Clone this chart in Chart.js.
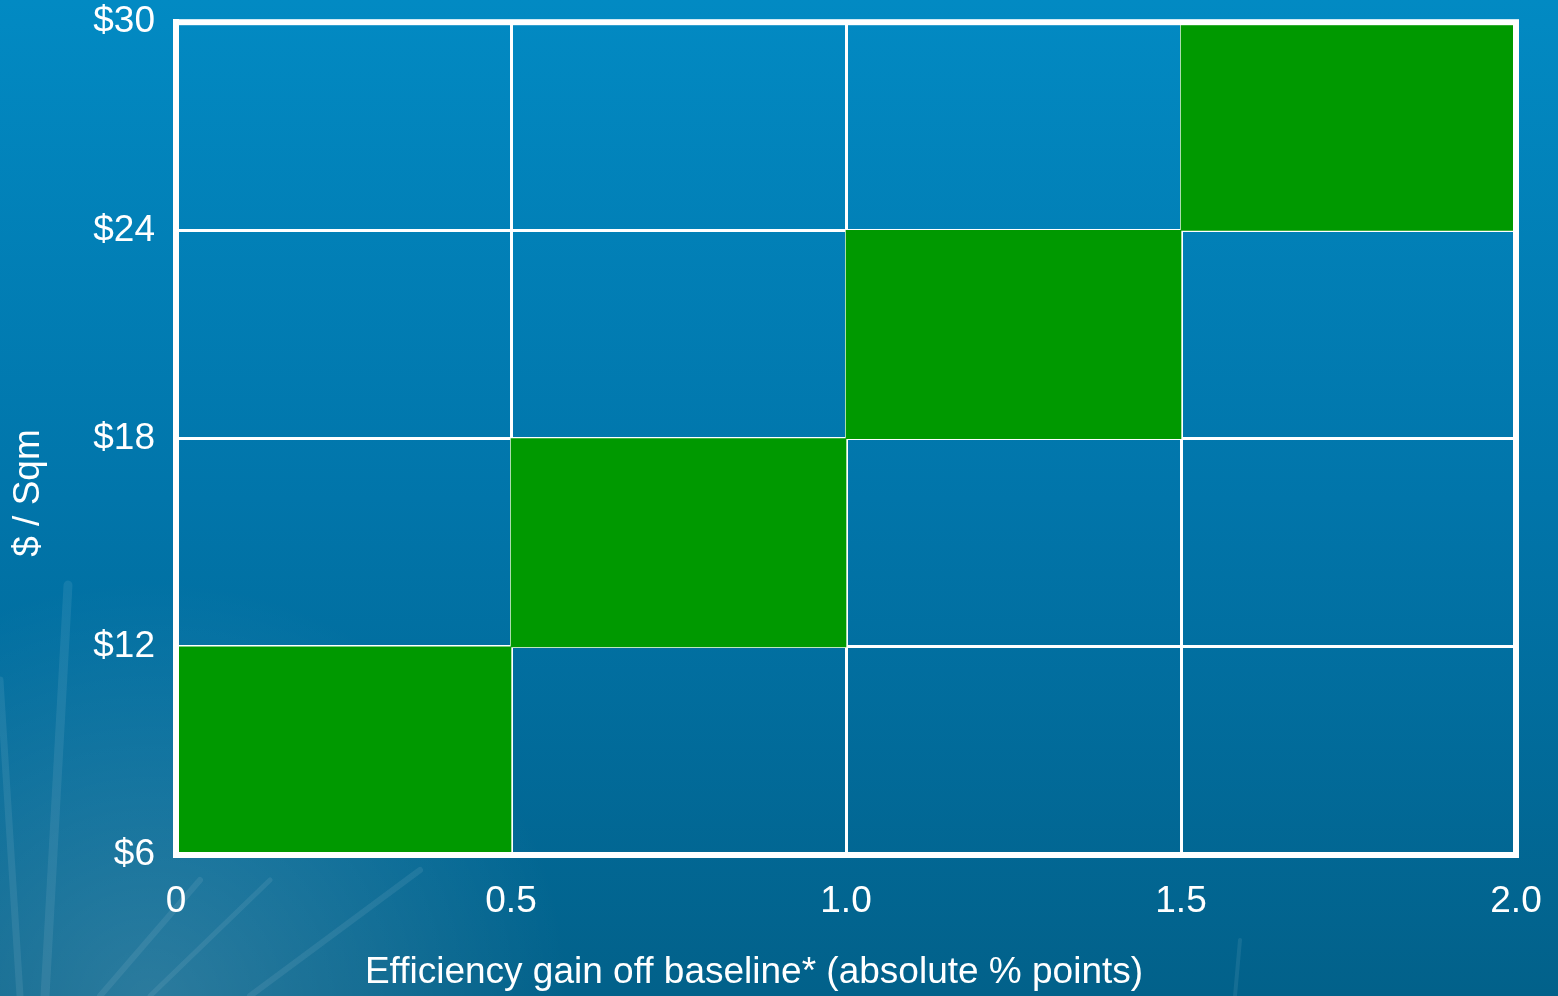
<!DOCTYPE html>
<html lang="en">
<head>
    <meta charset="UTF-8">
    <title>Cost per sqm vs efficiency gain</title>
    <script src="https://cdn.jsdelivr.net/npm/chart.js@4.4.1/dist/chart.umd.min.js"></script>
    <style>
        body {
            margin: 0;
            overflow: hidden;
            background-color: #0277a9;
        }
        .chart-container {
            width: 1558px;
            height: 996px;
        }
    </style>
</head>
<body>
    <div class="chart-container">
        <canvas id="gainChart"></canvas>
    </div>

    <script>
        // Efficiency bands (x) and the $/sqm range covered by each band
        const bands = ['0–0.5', '0.5–1.0', '1.0–1.5', '1.5–2.0'];
        const costLow = [6, 12, 18, 24];
        const costHigh = [12, 18, 24, 30];

        // Tick labels
        const xTicks = [0, 0.5, 1.0, 1.5, 2.0];
        const yTicks = [6, 12, 18, 24, 30];

        const xTitle = 'Efficiency gain off baseline* (absolute % points)';
        const yTitle = '$ / Sqm';

        const white = '#ffffff';
        const fontFamily = '"Liberation Sans", Arial, sans-serif';
        const fontSize = 37;

        // slide-like background: blue gradient with a few faint streaks bottom-left
        const backgroundPlugin = {
            id: 'slideBackground',
            beforeDraw(chart) {
                const { ctx, width, height } = chart;
                ctx.save();
                const g = ctx.createLinearGradient(0, 0, 0, height);
                g.addColorStop(0, '#028ac3');
                g.addColorStop(0.5, '#0175aa');
                g.addColorStop(1, '#02618a');
                ctx.fillStyle = g;
                ctx.fillRect(0, 0, width, height);

                const r = ctx.createRadialGradient(150, 1000, 10, 150, 1000, 420);
                r.addColorStop(0, 'rgba(255,255,255,0.16)');
                r.addColorStop(1, 'rgba(255,255,255,0)');
                ctx.fillStyle = r;
                ctx.fillRect(0, 500, 700, 496);

                ctx.strokeStyle = 'rgba(255,255,255,0.08)';
                ctx.lineCap = 'round';
                const streaks = [
                    [68, 585, 45, 996, 9], [0, 680, 20, 996, 7], [200, 880, 100, 996, 6],
                    [270, 880, 150, 996, 5], [420, 870, 250, 996, 6], [1240, 940, 1235, 996, 4]
                ];
                streaks.forEach(([x1, y1, x2, y2, w]) => {
                    ctx.lineWidth = w;
                    ctx.beginPath();
                    ctx.moveTo(x1, y1);
                    ctx.lineTo(x2, y2);
                    ctx.stroke();
                });
                ctx.restore();
            }
        };

        // thick white frame round the plot area, plus the two axis titles
        // (the slide places them off-centre, so they are set by hand here)
        const framePlugin = {
            id: 'plotFrame',
            afterDraw(chart) {
                const { ctx, chartArea: a } = chart;
                ctx.save();
                ctx.strokeStyle = white;
                ctx.lineWidth = 6;
                ctx.strokeRect(a.left, a.top, a.right - a.left, a.bottom - a.top);

                ctx.fillStyle = white;
                ctx.font = fontSize + 'px ' + fontFamily;
                ctx.textAlign = 'center';
                ctx.textBaseline = 'middle';
                ctx.fillText(xTitle, 754, 973);

                ctx.translate(29, 493);
                ctx.rotate(-Math.PI / 2);
                ctx.fillText(yTitle, 0, 0);
                ctx.restore();
            }
        };

        const ctx = document.getElementById('gainChart').getContext('2d');
        new Chart(ctx, {
            type: 'bar',
            data: {
                labels: bands,
                datasets: [{
                    label: yTitle,
                    data: costLow.map((lo, i) => [lo, costHigh[i]]),
                    backgroundColor: '#009900',
                    borderWidth: 0,
                    barPercentage: 1,
                    categoryPercentage: 1
                }]
            },
            options: {
                responsive: true,
                maintainAspectRatio: false,
                animation: false,
                layout: {
                    padding: { top: 0, right: 42, left: 0, bottom: 0 }
                },
                plugins: {
                    legend: { display: false },
                    tooltip: { enabled: false }
                },
                scales: {
                    x: {
                        type: 'category',
                        display: false
                    },
                    xLin: {
                        type: 'linear',
                        position: 'bottom',
                        min: 0,
                        max: 2,
                        offset: false,
                        z: 1,
                        afterBuildTicks: axis => {
                            axis.ticks = xTicks.map(v => ({ value: v }));
                        },
                        afterFit: axis => {
                            axis.height = 141;
                        },
                        ticks: {
                            color: white,
                            padding: 0,
                            font: { family: fontFamily, size: fontSize },
                            maxRotation: 0,
                            callback: v => (v === 0 ? '0' : v.toFixed(1))
                        },
                        grid: {
                            color: white,
                            lineWidth: 3,
                            offset: false,
                            drawTicks: true,
                            tickLength: 25,
                            tickColor: 'rgba(0,0,0,0)'
                        },
                        border: { color: white, width: 6 }
                    },
                    y: {
                        min: 6,
                        max: 30,
                        z: 1,
                        afterBuildTicks: axis => {
                            axis.ticks = yTicks.map(v => ({ value: v }));
                        },
                        afterFit: axis => {
                            axis.width = 176;
                        },
                        ticks: {
                            color: white,
                            padding: 0,
                            font: { family: fontFamily, size: fontSize },
                            callback: v => '$' + v
                        },
                        grid: {
                            color: white,
                            lineWidth: 3,
                            drawTicks: true,
                            tickLength: 21,
                            tickColor: 'rgba(0,0,0,0)'
                        },
                        border: { color: white, width: 6 }
                    }
                }
            },
            plugins: [backgroundPlugin, framePlugin]
        });
    </script>
</body>
</html>
